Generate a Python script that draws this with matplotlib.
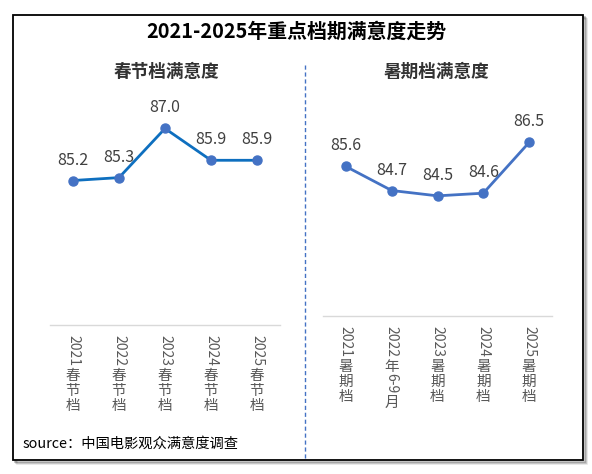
import matplotlib
matplotlib.use("Agg")
import matplotlib.pyplot as plt
from matplotlib import transforms
from matplotlib.patches import Rectangle
from matplotlib.lines import Line2D

plt.rcParams['font.family'] = ['Noto Sans CJK SC', 'DejaVu Sans']

title = "2021-2025年重点档期满意度走势"
source = "source：中国电影观众满意度调查"

spring_title = "春节档满意度"
spring_labels = ["2021春节档", "2022春节档", "2023春节档", "2024春节档", "2025春节档"]
spring_values = [85.2, 85.3, 87.0, 85.9, 85.9]

summer_title = "暑期档满意度"
summer_labels = ["2021暑期档", "2022年6-9月", "2023暑期档", "2024暑期档", "2025暑期档"]
summer_values = [85.6, 84.7, 84.5, 84.6, 86.5]

W, H = 592, 474
DPI = 100
fig = plt.figure(figsize=(W / DPI, H / DPI), dpi=DPI)
fig.patch.set_facecolor('white')


def fx(px):
    return px / W


def fy(py):
    return 1 - py / H


# frame with shadow
for i, a in enumerate([0.10, 0.18, 0.28]):
    off = 4 - i
    fig.patches.append(Rectangle((fx(13 + off), fy(460 + off)), fx(570), (460 - 15) / H,
                                 transform=fig.transFigure, facecolor='none',
                                 edgecolor=(0, 0, 0, a), lw=1.2, zorder=-5))
fig.patches.append(Rectangle((fx(13), fy(460)), fx(570), (460 - 15) / H,
                             transform=fig.transFigure, facecolor='white',
                             edgecolor='black', lw=1.3, zorder=-4))

# divider
fig.lines.append(Line2D([fx(305), fx(305)], [fy(65), fy(459)], transform=fig.transFigure,
                        color='#4472C4', lw=1.0, ls=(0, (3, 2)), zorder=-3))

fig.text(fx(296), fy(31.5), title, ha='center', va='center', fontsize=14.3,
         fontweight='bold', color='black')
fig.text(fx(166.5), fy(72), spring_title, ha='center', va='center', fontsize=12.7,
         fontweight='bold', color='#333333')
fig.text(fx(437), fy(72), summer_title, ha='center', va='center', fontsize=12.7,
         fontweight='bold', color='#333333')
fig.text(fx(22.5), fy(444), source, ha='left', va='center', fontsize=10.3, color='black')

renderer = fig.canvas.get_renderer()

CJK_FS = 10.5
ASCII_FS = 10.0
PITCH = 15.0


def is_ascii(ch):
    return ord(ch) < 128


def vertical_label(ax, x, label, start_px, color='#595959'):
    runs = []
    for ch in label:
        if runs and runs[-1][1] == is_ascii(ch):
            runs[-1][0] += ch
        else:
            runs.append([ch, is_ascii(ch)])
    cursor = start_px
    for text, asc in runs:
        if asc:
            tr = transforms.offset_copy(ax.get_xaxis_transform(), fig=fig, x=0, y=-cursor,
                                        units='dots')
            t = ax.text(x, 0, text, rotation=-90, ha='center', va='top', transform=tr,
                        fontsize=ASCII_FS, color=color, clip_on=False)
            ext = t.get_window_extent(renderer)
            cursor += ext.height + 1
        else:
            for ch in text:
                tr = transforms.offset_copy(ax.get_xaxis_transform(), fig=fig, x=0,
                                            y=-(cursor + PITCH / 2), units='dots')
                ax.text(x, 0, ch, ha='center', va='center_baseline', transform=tr,
                        fontsize=CJK_FS, color=color, clip_on=False)
                cursor += PITCH


def make_panel(rect_px, ylim, labels, values, line_color, marker_color):
    left, top, right, bottom = rect_px
    ax = fig.add_axes([fx(left), fy(bottom), (right - left) / W, (bottom - top) / H])
    ax.set_facecolor('none')
    xs = list(range(len(values)))
    ax.plot(xs, values, color=line_color, lw=2.0, marker='o', ms=6.5,
            markerfacecolor=marker_color, markeredgecolor=marker_color, zorder=3)
    for x, v in zip(xs, values):
        ax.annotate(f"{v:.1f}", (x, v), xytext=(0, 16), textcoords='offset pixels',
                    ha='center', va='baseline', fontsize=11.5, color='#404040')
    ax.set_xlim(-0.5, len(values) - 0.5)
    ax.set_ylim(*ylim)
    for s in ['top', 'left', 'right']:
        ax.spines[s].set_visible(False)
    ax.spines['bottom'].set_color('#D9D9D9')
    ax.spines['bottom'].set_linewidth(1.0)
    ax.set_xticks([])
    ax.set_yticks([])
    for x, lab in zip(xs, labels):
        vertical_label(ax, x, lab, 10)
    return ax


make_panel((50, 99.6, 280, 325), (80.2, 88.0), spring_labels, spring_values, '#0E6FBF', '#4472C4')
make_panel((323, 102.4, 552, 316), (80.0, 88.0), summer_labels, summer_values, '#4472C4', '#4472C4')

fig.savefig("out.png", dpi=DPI, facecolor='white')
